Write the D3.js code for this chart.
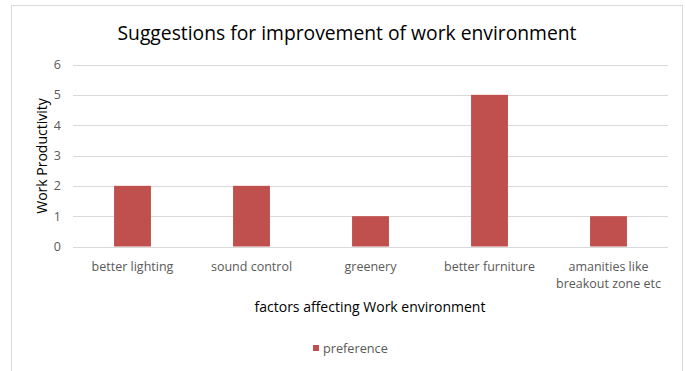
<!DOCTYPE html>
<html>
<head>
<meta charset="utf-8">
<script src="https://cdn.jsdelivr.net/npm/d3@7"></script>
<style>
  html, body { margin: 0; padding: 0; background: #fff; }
  svg { display: block; }
  text { font-family: "Open Sans", "Noto Sans", sans-serif; }
</style>
</head>
<body>
<svg id="chart" width="686" height="371"></svg>
<script>
// Survey results: preference count per factor
const categories = [
  ["better lighting"],
  ["sound control"],
  ["greenery"],
  ["better furniture"],
  ["amanities like", "breakout zone etc"]
];
const preference = [2, 2, 1, 5, 1];
const yTicks = [0, 1, 2, 3, 4, 5, 6];
const seriesName = "preference";
const chartTitle = "Suggestions for improvement of work environment";
const xTitle = "factors affecting Work environment";
const yTitle = "Work Productivity";

const W = 686, H = 371;
const margin = { left: 73, right: 18, top: 64, bottom: 125 };
const barColor = "#c0504d";
const textColor = "#595959";

const svg = d3.select("#chart");

// outer chart frame
svg.append("rect")
  .attr("x", 11.5).attr("y", 5.5)
  .attr("width", 671).attr("height", 370)
  .attr("fill", "#fff").attr("stroke", "#d9d9d9");

const keys = categories.map(c => c.join(" "));
const x = d3.scaleBand()
  .domain(keys)
  .range([margin.left, W - margin.right])
  .paddingInner(0.69).paddingOuter(0.345);

const y = d3.scaleLinear()
  .domain([0, 6])
  .range([246.5, 64.5]);

// horizontal gridlines
svg.append("g")
  .selectAll("line")
  .data(yTicks)
  .join("line")
  .attr("x1", margin.left).attr("x2", W - margin.right)
  .attr("y1", d => Math.round(y(d)) + 0.5).attr("y2", d => Math.round(y(d)) + 0.5)
  .attr("stroke", "#d9d9d9").attr("stroke-width", 1);

// y axis labels
const yAxis = d3.axisLeft(y).tickValues(yTicks).tickFormat(d3.format("d"))
  .tickSize(0).tickPadding(12);
const gy = svg.append("g")
  .attr("transform", `translate(${margin.left},0)`)
  .call(yAxis);
gy.select(".domain").remove();
gy.selectAll("text")
  .attr("fill", textColor)
  .style("font-size", "12.5px")
  .style("font-family", "'Open Sans', sans-serif");

// bars
svg.append("g")
  .selectAll("rect")
  .data(preference)
  .join("rect")
  .attr("x", (d, i) => x(keys[i]))
  .attr("width", x.bandwidth())
  .attr("y", d => y(d))
  .attr("height", d => y(0) - y(d))
  .attr("fill", barColor);

// category labels (wrapped)
const xl = svg.append("g");
categories.forEach((lines, i) => {
  const cx = x(keys[i]) + x.bandwidth() / 2;
  const t = xl.append("text")
    .attr("x", cx).attr("y", 271)
    .attr("text-anchor", "middle")
    .attr("fill", textColor)
    .style("font-size", "12.5px");
  lines.forEach((ln, j) => {
    t.append("tspan").attr("x", cx).attr("dy", j === 0 ? 0 : 17).text(ln);
  });
});

// title
svg.append("text")
  .attr("x", 347).attr("y", 40)
  .attr("text-anchor", "middle")
  .attr("fill", "#000")
  .style("font-size", "19.3px")
  .text(chartTitle);

// axis titles
svg.append("text")
  .attr("x", 370).attr("y", 312)
  .attr("text-anchor", "middle")
  .attr("fill", "#000")
  .style("font-size", "14px")
  .text(xTitle);

svg.append("text")
  .attr("transform", `translate(47,156) rotate(-90)`)
  .attr("text-anchor", "middle")
  .attr("fill", "#000")
  .style("font-size", "14px")
  .text(yTitle);

// legend
const lg = svg.append("g").attr("transform", "translate(313,345)");
lg.append("rect").attr("width", 6).attr("height", 6).attr("fill", barColor);
lg.append("text").attr("x", 10).attr("y", 8)
  .attr("fill", textColor)
  .style("font-size", "12.7px")
  .text(seriesName);
</script>
</body>
</html>
